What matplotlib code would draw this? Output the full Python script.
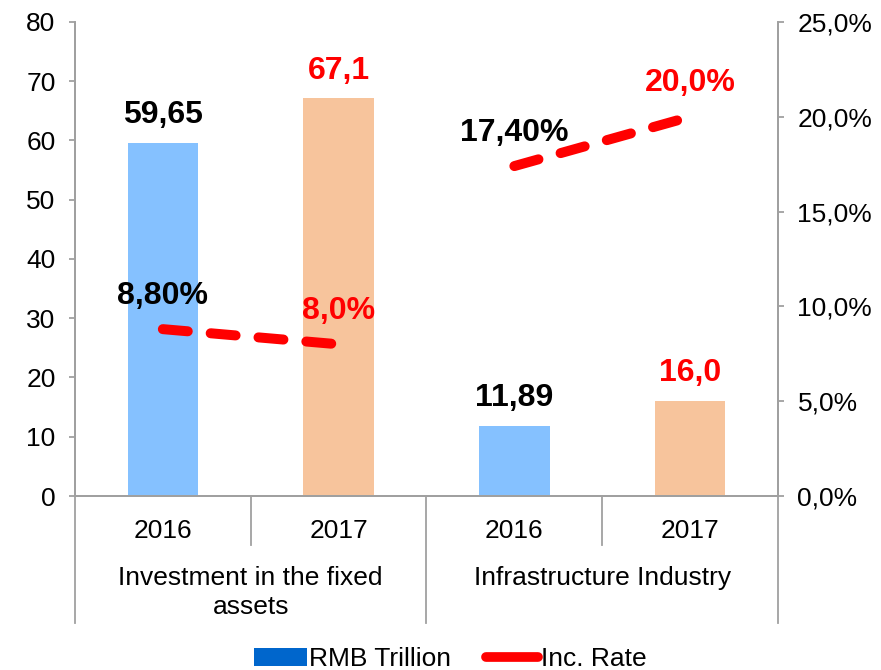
import matplotlib
matplotlib.use('Agg')
import matplotlib.pyplot as plt
import matplotlib.transforms as mtransforms
from matplotlib.lines import Line2D
from matplotlib.patches import Patch
from matplotlib.ticker import FuncFormatter

plt.rcParams['font.family'] = ['Liberation Sans', 'DejaVu Sans']

years = ['2016', '2017', '2016', '2017']
groups = ['Investment in the fixed\nassets', 'Infrastructure Industry']
rmb = [59.65, 67.1, 11.89, 16.0]
rmb_labels = ['59,65', '67,1', '11,89', '16,0']
rate = [8.8, 8.0, 17.4, 20.0]
rate_labels = ['8,80%', '8,0%', '17,40%', '20,0%']
label_colors = ['black', 'red', 'black', 'red']
bar_colors = ['#85C1FF', '#F7C49C', '#85C1FF', '#F7C49C']

axis_grey = '#A0A0A0'

fig = plt.figure(figsize=(8.81, 6.70), dpi=100)
ax = fig.add_axes([0.0851, 0.2597, 0.798, 0.7075])

x = [0.5, 1.5, 2.5, 3.5]
ax.bar(x, rmb, width=0.4, color=bar_colors, zorder=2)
ax.set_xlim(0, 4)
ax.set_ylim(0, 80)
ax.set_yticks(range(0, 81, 10))
ax.set_xticks([])

for xi, v, lab, c in zip(x, rmb, rmb_labels, label_colors):
    ax.annotate(lab, (xi, v), xytext=(0, 20), textcoords='offset points',
                ha='center', va='center', fontsize=23, fontweight='bold', color=c)

ax2 = ax.twinx()
ax2.set_ylim(0, 25)
ax2.set_yticks(range(0, 26, 5))
ax2.yaxis.set_major_formatter(FuncFormatter(lambda v, p: f'{v:.1f}%'.replace('.', ',')))

for seg in (slice(0, 2), slice(2, 4)):
    ln, = ax2.plot(x[seg], rate[seg], color='red', linewidth=7.2,
                   solid_capstyle='round', dash_capstyle='round', zorder=3)
    ln.set_dashes((2.5, 2.3))

for xi, v, lab, c in zip(x, rate, rate_labels, label_colors):
    ax2.annotate(lab, (xi, v), xytext=(0, 24), textcoords='offset points',
                 ha='center', va='center', fontsize=23, fontweight='bold', color=c)

for a in (ax, ax2):
    a.spines['top'].set_visible(False)
    for s in ('left', 'right', 'bottom'):
        a.spines[s].set_color(axis_grey)
        a.spines[s].set_linewidth(1.3)
    a.tick_params(axis='y', direction='out', length=4, width=1.3, color=axis_grey,
                  labelsize=19, pad=10)

# category divider lines and labels below the x axis
trans = mtransforms.blended_transform_factory(ax.transData, ax.transAxes)
for xd in (1, 3):
    ax.add_line(Line2D([xd, xd], [0, -0.103], transform=trans, color=axis_grey,
                       linewidth=1.3, clip_on=False))
for xd in (0, 2, 4):
    ax.add_line(Line2D([xd, xd], [0, -0.268], transform=trans, color=axis_grey,
                       linewidth=1.3, clip_on=False))

for xi, y in zip(x, years):
    ax.text(xi, -0.074, y, transform=trans, ha='center', va='center', fontsize=19)
for xi, g in zip([1, 3], groups):
    ax.text(xi, -0.148, g, transform=trans, ha='center', va='top', fontsize=19,
            linespacing=1.25)

handles = [Patch(facecolor='#0066CC', edgecolor='none'),
           Line2D([0], [0], color='red', linewidth=7, solid_capstyle='round')]
fig.legend(handles, ['RMB Trillion', 'Inc. Rate'], loc='center',
           bbox_to_anchor=(0.511, 0.016), ncol=2, frameon=False, fontsize=19,
           handlelength=2.0, handletextpad=0.1, columnspacing=1.3)

fig.savefig('out.png', dpi=100)
